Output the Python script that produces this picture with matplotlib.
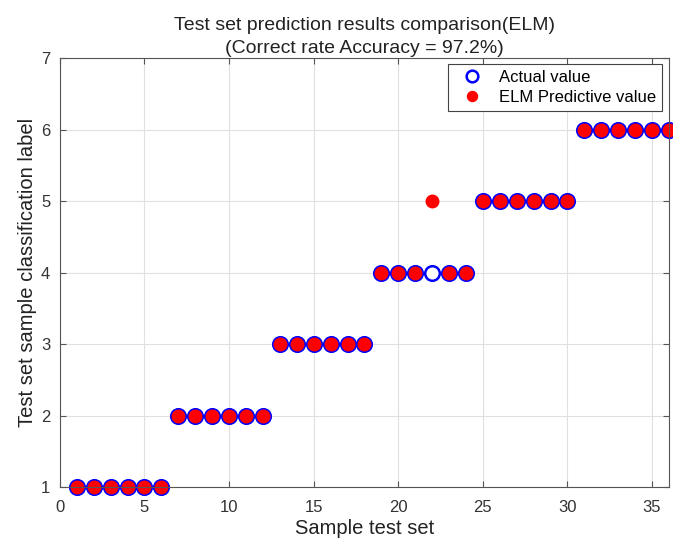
import numpy as np
import matplotlib.pyplot as plt

plt.rcParams['font.family'] = ['Liberation Sans', 'DejaVu Sans']

# Test samples and their class labels
sample_idx = np.arange(1, 37)
actual_label = [1, 1, 1, 1, 1, 1, 2, 2, 2, 2, 2, 2, 3, 3, 3, 3, 3, 3,
                4, 4, 4, 4, 4, 4, 5, 5, 5, 5, 5, 5, 6, 6, 6, 6, 6, 6]
elm_label = [1, 1, 1, 1, 1, 1, 2, 2, 2, 2, 2, 2, 3, 3, 3, 3, 3, 3,
             4, 4, 4, 5, 4, 4, 5, 5, 5, 5, 5, 5, 6, 6, 6, 6, 6, 6]
accuracy = 97.2

fig = plt.figure(figsize=(6.73, 5.43), dpi=100)
ax = fig.add_axes([0.089, 0.103, 0.905, 0.790])

ax.plot(sample_idx, actual_label, 'o', color='blue', markerfacecolor='white',
        markeredgewidth=1.8, markersize=10.5, label='Actual value', clip_on=False)
ax.plot(sample_idx, elm_label, 'o', color='red', markersize=9,
        label='ELM Predictive value', clip_on=False)

ax.set_xlim(0, 36)
ax.set_ylim(1, 7)
ax.set_xticks(range(0, 36, 5))
ax.set_yticks(range(1, 8))
ax.grid(True, color='#e0e0e0', linewidth=0.8)
ax.set_axisbelow(True)
for s in ax.spines.values():
    s.set_color('#555555')
ax.tick_params(direction='in', top=True, right=True, colors='#555555',
               labelcolor='#333333', labelsize=12, length=4)
ax.tick_params(axis='x', pad=9)
ax.tick_params(axis='y', pad=7)

ax.set_xlabel('Sample test set', fontsize=14.5, color='#222222', labelpad=3)
ax.set_ylabel('Test set sample classification label', fontsize=14.5,
              color='#222222', labelpad=3)
ax.set_title('Test set prediction results comparison(ELM)\n'
             '(Correct rate Accuracy = %.1f%%)' % accuracy,
             fontsize=14, color='#222222', pad=4, linespacing=1.45)

leg = ax.legend(loc='upper right', bbox_to_anchor=(0.988, 0.986), fontsize=12,
                borderaxespad=0, fancybox=False, framealpha=1, edgecolor='#444444',
                handletextpad=0.5, borderpad=0.35, labelspacing=0.3,
                handlelength=2.2, markerscale=0.8)
leg.get_frame().set_linewidth(0.8)

fig.savefig('out.png', dpi=100)
